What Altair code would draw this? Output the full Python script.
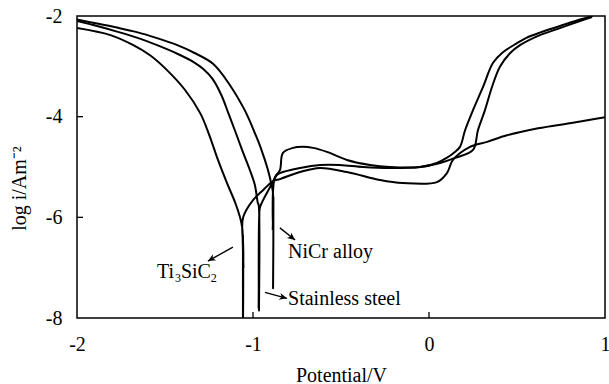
import math
import altair as alt
import pandas as pd

# Plot-area size in pixels
W, H = 528, 302
X_DOMAIN = [-2.0, 1.0]
Y_DOMAIN = [-8.0, -2.0]
FONT = "Liberation Serif"

# Potentiodynamic polarization curves: potential (V) vs log current density (A/m^2)
ti_x = [-2.0, -1.81, -1.68, -1.585, -1.49, -1.386, -1.30, -1.25, -1.20, -1.15, -1.10, -1.07,
        -1.06, -1.057, -1.057, -1.054, -1.059, -1.054, -1.058, -1.056,
        -1.0, -0.943, -0.886, -0.847, -0.733, -0.619, -0.466, -0.278, -0.148, 0.045,
        0.102, 0.136, 0.233, 0.33, 0.443, 0.62, 0.80, 0.90, 1.0]
ti_y = [-2.24, -2.38, -2.58, -2.78, -3.07, -3.47, -3.93, -4.35, -4.85, -5.30, -5.72, -6.05,
        -6.25, -8.30, -6.35, -7.0, -6.4, -7.0, -6.5, -6.0,
        -5.66, -5.46, -5.28, -5.24, -5.10, -5.02, -5.10, -5.26, -5.32, -5.30,
        -5.12, -4.86, -4.60, -4.50, -4.37, -4.23, -4.13, -4.07, -4.01]

ss_x = [-2.0, -1.886, -1.773, -1.66, -1.545, -1.43, -1.335, -1.284, -1.23, -1.18, -1.14,
        -1.10, -1.06, -1.02, -0.99, -0.972,
        -0.968, -0.966, -0.964, -0.968, -0.964, -0.967, -0.965,
        -0.96, -0.903, -0.864, -0.847, -0.733, -0.619, -0.506, -0.375, -0.222, -0.051,
        0.063, 0.148, 0.25, 0.278, 0.318, 0.358, 0.403, 0.46, 0.517, 0.63, 0.744, 0.858, 0.926]
ss_y = [-2.10, -2.20, -2.31, -2.43, -2.58, -2.75, -2.92, -3.05, -3.25, -3.57, -3.93,
        -4.30, -4.68, -5.04, -5.35, -5.72,
        -5.75, -7.85, -5.9, -7.8, -5.85, -7.7, -6.0,
        -5.80, -5.40, -5.16, -5.12, -5.02, -4.96, -4.96, -5.0, -5.02, -5.0,
        -4.92, -4.82, -4.66, -4.27, -3.87, -3.41, -3.01, -2.74, -2.58, -2.38, -2.24, -2.10, -2.02]

nicr_x = [-2.0, -1.886, -1.773, -1.66, -1.545, -1.43, -1.335, -1.227, -1.13, -1.05, -1.028,
          -0.989, -0.955, -0.915, -0.892,
          -0.887, -0.886, -0.884, -0.888, -0.884, -0.887,
          -0.886, -0.875, -0.847, -0.83, -0.773, -0.716, -0.659, -0.58, -0.466, -0.335,
          -0.222, -0.05, 0.045, 0.10, 0.14, 0.176, 0.205, 0.25, 0.307, 0.364, 0.42, 0.50,
          0.55, 0.63, 0.744, 0.858, 0.93]
nicr_y = [-2.07, -2.15, -2.23, -2.32, -2.44, -2.58, -2.73, -2.95, -3.38, -3.85, -4.01,
          -4.33, -4.63, -5.06, -5.40,
          -5.5, -7.41, -5.6, -6.25, -5.65, -6.2,
          -5.46, -5.2, -5.06, -4.72, -4.62, -4.60, -4.62, -4.70, -4.86, -4.96,
          -5.0, -5.0, -4.92, -4.82, -4.72, -4.60, -4.27, -3.87, -3.41, -2.93, -2.72, -2.54,
          -2.44, -2.33, -2.20, -2.07, -2.0]

# Labels with their arrows (tail -> head), in data coordinates
label_names = ["Ti3SiC2", "NiCr alloy", "Stainless steel"]
label_x = [-1.545, -0.801, -0.801]
label_y = [-7.206, -6.808, -7.742]
arrow_x1 = [-1.114, -0.847, -0.932]
arrow_y1 = [-6.59, -6.21, -7.49]
arrow_x2 = [-1.256, -0.761, -0.807]
arrow_y2 = [-6.87, -6.45, -7.61]

x_tick_values = [-1, 0]
y_tick_values = [-4, -6]

rows = []
for name, xs, ys in [("Ti3SiC2", ti_x, ti_y), ("Stainless steel", ss_x, ss_y),
                     ("NiCr alloy", nicr_x, nicr_y)]:
    for i, (xv, yv) in enumerate(zip(xs, ys)):
        rows.append({"sample": name, "idx": i, "E": xv, "logi": yv})
curves_df = pd.DataFrame(rows)


def heading(x1, y1, x2, y2):
    dx = (x2 - x1) * W / (X_DOMAIN[1] - X_DOMAIN[0])
    dy = -(y2 - y1) * H / (Y_DOMAIN[1] - Y_DOMAIN[0])
    return math.degrees(math.atan2(dy, dx)) % 360


arrows_df = pd.DataFrame({
    "x1": arrow_x1, "y1": arrow_y1, "x2": arrow_x2, "y2": arrow_y2,
    "ang": [heading(a, b, c, d) for a, b, c, d in zip(arrow_x1, arrow_y1, arrow_x2, arrow_y2)],
})
labels_df = pd.DataFrame({"name": label_names, "x": label_x, "y": label_y})

xscale = alt.Scale(domain=X_DOMAIN, nice=False, zero=False)
yscale = alt.Scale(domain=Y_DOMAIN, nice=False, zero=False)

common_axis = dict(ticks=False, tickSize=0, domain=False, grid=False, labelFlush=False,
                   labelFont=FONT, labelFontSize=20, labelColor="black",
                   titleFont=FONT, titleFontSize=20, titleFontWeight="normal",
                   titleColor="black", labelExpr="'' + datum.value")

x_enc = alt.X("E:Q", scale=xscale,
              axis=alt.Axis(values=[-2, -1, 0, 1], title="Potential/V",
                            labelPadding=16, titlePadding=11, **common_axis))
y_enc = alt.Y("logi:Q", scale=yscale,
              axis=alt.Axis(values=[-8, -6, -4, -2], title="log i/Am⁻²",
                            labelPadding=15, titlePadding=16, titleY=172, **common_axis))

curves = alt.Chart(curves_df).mark_line(
    color="black", strokeWidth=2, clip=True, strokeJoin="round", interpolate="catmull-rom"
).encode(x=x_enc, y=y_enc, detail="sample:N", order="idx:Q")

x_ticks = alt.Chart(pd.DataFrame({"v": x_tick_values})).mark_rule(
    color="black", strokeWidth=1.3
).encode(x=alt.X("v:Q", scale=xscale), y=alt.value(H), y2=alt.value(H - 6))

y_ticks = alt.Chart(pd.DataFrame({"v": y_tick_values})).mark_rule(
    color="black", strokeWidth=1.3
).encode(y=alt.Y("v:Q", scale=yscale), x=alt.value(0), x2=alt.value(6))

arrow_lines = alt.Chart(arrows_df).mark_rule(color="black", strokeWidth=1.4).encode(
    x=alt.X("x1:Q", scale=xscale), y=alt.Y("y1:Q", scale=yscale),
    x2="x2:Q", y2="y2:Q")

arrow_heads = alt.Chart(arrows_df).mark_point(
    shape="M0,0 L-1,-0.45 L-0.7,0 L-1,0.45 Z", filled=True, color="black",
    size=240, opacity=1
).encode(x=alt.X("x2:Q", scale=xscale), y=alt.Y("y2:Q", scale=yscale),
         angle=alt.Angle("ang:Q", scale=None))

text_style = dict(align="left", baseline="alphabetic", font=FONT, color="black")
plain_labels = alt.Chart(labels_df).transform_filter(
    alt.datum.name != "Ti3SiC2"
).mark_text(fontSize=20, **text_style).encode(
    x=alt.X("x:Q", scale=xscale), y=alt.Y("y:Q", scale=yscale), text="name:N")

# Ti3SiC2 written piecewise so the stoichiometric digits sit as subscripts
ti_df = labels_df[labels_df["name"] == "Ti3SiC2"]
ti_parts = []
for txt, dx, dy, size in [("Ti", 0, 0, 20), ("3", 17.8, 4, 12), ("SiC", 23.8, 0, 20), ("2", 53.6, 4, 12)]:
    ti_parts.append(
        alt.Chart(ti_df).mark_text(text=txt, dx=dx, dy=dy, fontSize=size, **text_style)
        .encode(x=alt.X("x:Q", scale=xscale), y=alt.Y("y:Q", scale=yscale))
    )

chart = alt.layer(curves, x_ticks, y_ticks, arrow_lines, arrow_heads, plain_labels, *ti_parts).properties(
    width=W, height=H,
    autosize=alt.AutoSizeParams(type="none"),
    padding={"left": 77, "top": 16, "right": 4, "bottom": 66},
    background="white",
).configure_view(stroke="black", strokeWidth=1.5)

chart.save("out.html", embed_options={"renderer": "svg", "actions": False})
